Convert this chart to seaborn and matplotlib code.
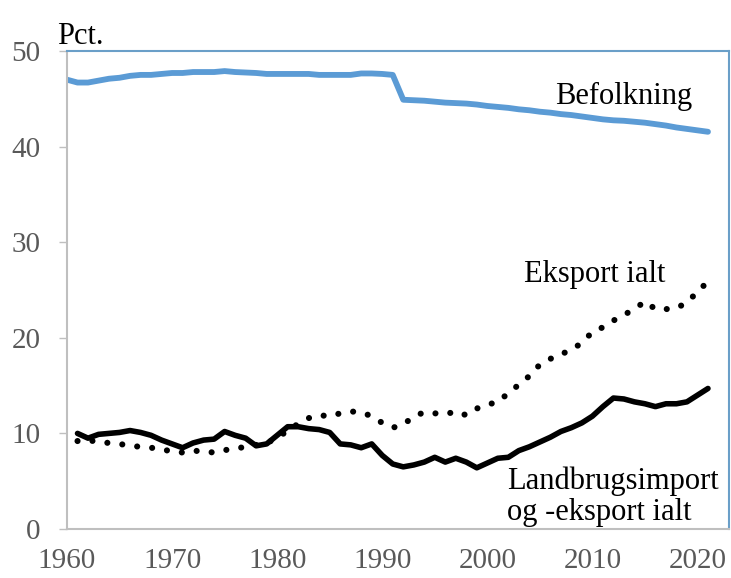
import numpy as np
import pandas as pd
import matplotlib
matplotlib.use('Agg')
import matplotlib.pyplot as plt
import seaborn as sns

# data
years_bef = list(range(1960, 2022))
befolkning = [47.0, 46.7, 46.7, 46.9, 47.1, 47.2, 47.4, 47.5, 47.5, 47.6,
              47.7, 47.7, 47.8, 47.8, 47.8, 47.9, 47.8, 47.75, 47.7, 47.6,
              47.6, 47.6, 47.6, 47.6, 47.5, 47.5, 47.5, 47.5, 47.65, 47.65,
              47.6, 47.5, 44.9, 44.85, 44.8, 44.7, 44.6, 44.55, 44.5, 44.4,
              44.25, 44.15, 44.05, 43.9, 43.8, 43.65, 43.55, 43.4, 43.3, 43.15,
              43.0, 42.85, 42.75, 42.7, 42.6, 42.5, 42.35, 42.2, 42.0, 41.85,
              41.7, 41.55]

years = list(range(1961, 2022))
eksport = [9.2, 9.3, 9.1, 9.0, 8.9, 8.7, 8.6, 8.5, 8.35, 8.1,
           8.0, 8.2, 8.1, 8.0, 8.25, 8.4, 8.6, 8.8, 9.0, 9.5,
           10.3, 11.0, 11.6, 11.9, 11.8, 12.1, 12.3, 12.2, 11.8, 11.1,
           10.6, 10.9, 11.8, 12.2, 12.1, 12.0, 12.3, 11.9, 12.6, 13.0,
           13.3, 14.2, 15.1, 16.0, 17.2, 17.8, 18.3, 18.7, 19.5, 20.6,
           21.1, 21.8, 22.4, 23.0, 23.8, 23.0, 23.0, 23.1, 23.7, 24.8,
           25.9]
landbrug = [10.0, 9.5, 9.9, 10.0, 10.1, 10.3, 10.1, 9.8, 9.3, 8.9,
            8.5, 9.0, 9.3, 9.4, 10.2, 9.8, 9.5, 8.7, 8.9, 9.8,
            10.7, 10.7, 10.5, 10.4, 10.1, 8.9, 8.8, 8.5, 8.9, 7.7,
            6.8, 6.5, 6.7, 7.0, 7.5, 7.0, 7.4, 7.0, 6.4, 6.9,
            7.4, 7.5, 8.2, 8.6, 9.1, 9.6, 10.2, 10.6, 11.1, 11.8,
            12.8, 13.7, 13.6, 13.3, 13.1, 12.8, 13.1, 13.1, 13.3, 14.0,
            14.7]

x_ticks = [1960, 1970, 1980, 1990, 2000, 2010, 2020]
y_ticks = [0, 10, 20, 30, 40, 50]

sns.set_theme(style='white')
plt.rcParams['font.family'] = ['Liberation Serif', 'DejaVu Serif']

fig = plt.figure(figsize=(7.31, 5.78), dpi=100)
ax = fig.add_axes([67 / 731, 1 - 529 / 578, 662 / 731, 478 / 578])

sns.lineplot(x=years_bef, y=befolkning, ax=ax, color='#5B9BD5', linewidth=4.2,
             solid_joinstyle='round', solid_capstyle='round')
sns.lineplot(x=years, y=eksport, ax=ax, color='black', linewidth=4.4,
             linestyle=(0, (0.01, 2.45)), dash_capstyle='round')
sns.lineplot(x=years, y=landbrug, ax=ax, color='black', linewidth=4.0,
             solid_joinstyle='round')

ax.set_xlim(1960, 2023)
ax.set_ylim(0, 50)
ax.set_xticks(x_ticks)
ax.set_yticks(y_ticks)
ax.set_xlabel('')
ax.set_ylabel('')

ax.tick_params(axis='y', which='both', left=True, length=6, width=1,
               color='#BFBFBF', pad=13, labelsize=21, labelcolor='#595959')
ax.tick_params(axis='x', which='both', bottom=False, length=0, pad=14,
               labelsize=21, labelcolor='#595959')

for side in ['left', 'bottom']:
    ax.spines[side].set_color('#BFBFBF')
    ax.spines[side].set_linewidth(1.5)
for side in ['top', 'right']:
    ax.spines[side].set_color('#6A9FC8')
    ax.spines[side].set_linewidth(1.5)

# series labels
ax.text(2019.5, 45.2, 'Befolkning', ha='right', va='center', fontsize=22, color='black')
ax.text(2010.2, 26.6, 'Eksport ialt', ha='center', va='center', fontsize=22, color='black')
ax.text(2001.9, 3.4, 'Landbrugsimport\nog -eksport ialt', ha='left', va='center',
        fontsize=22, color='black', linespacing=1.1)
ax.text(-0.015, 1.03, 'Pct.', transform=ax.transAxes, ha='left', va='center',
        fontsize=22, color='black')

fig.savefig('out.png', dpi=100)
